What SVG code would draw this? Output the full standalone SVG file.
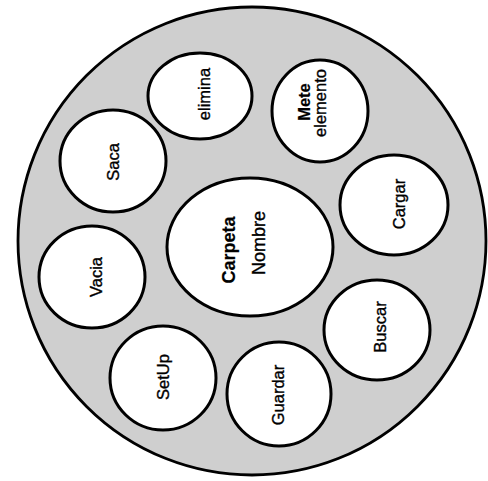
<svg xmlns="http://www.w3.org/2000/svg" width="488" height="481" viewBox="0 0 488 481">
<style>
.outer{fill:#cfcfcf;stroke:#000;stroke-width:2.8}
.node{fill:#fff;stroke:#000;stroke-width:3}
text{font-family:"Liberation Sans",Arial,sans-serif;font-size:16.5px;fill:#000;stroke:#000;stroke-width:0.35;text-anchor:middle}
.b{font-weight:bold;stroke-width:0.2}
.big{font-size:18px}
</style>
<g id="container">
<circle class="outer" cx="252" cy="241" r="234"/>
</g>
<g id="connectors"></g>
<g id="carpeta">
<ellipse class="node" cx="250" cy="247" rx="83" ry="69"/>
<text class="b big" transform="translate(235,250) rotate(-90)">Carpeta</text>
<text class="big" transform="translate(265,243) rotate(-90)">Nombre</text>
</g>
<g id="elimina">
<ellipse class="node" cx="200" cy="96" rx="52" ry="43"/>
<text transform="translate(210,94) rotate(-90)">elimina</text>
</g>
<g id="mete">
<ellipse class="node" cx="320" cy="111" rx="48" ry="51"/>
<text class="b" transform="translate(310,102) rotate(-90)">Mete</text>
<text transform="translate(326,103) rotate(-90)">elemento</text>
</g>
<g id="saca">
<ellipse class="node" cx="113" cy="161" rx="53" ry="51"/>
<text transform="translate(119,162) rotate(-90)">Saca</text>
</g>
<g id="cargar">
<ellipse class="node" cx="394" cy="205" rx="54" ry="50"/>
<text transform="translate(405,204) rotate(-90)">Cargar</text>
</g>
<g id="vacia">
<ellipse class="node" cx="92" cy="277" rx="53" ry="51"/>
<text transform="translate(102,277) rotate(-90)">Vacia</text>
</g>
<g id="buscar">
<ellipse class="node" cx="377" cy="330" rx="53" ry="50"/>
<text transform="translate(386,327) rotate(-90)">Buscar</text>
</g>
<g id="setup">
<ellipse class="node" cx="163" cy="378" rx="53" ry="52"/>
<text transform="translate(169,377) rotate(-90)">SetUp</text>
</g>
<g id="guardar">
<ellipse class="node" cx="279" cy="394" rx="52" ry="52"/>
<text transform="translate(284,395) rotate(-90)">Guardar</text>
</g>
</svg>
